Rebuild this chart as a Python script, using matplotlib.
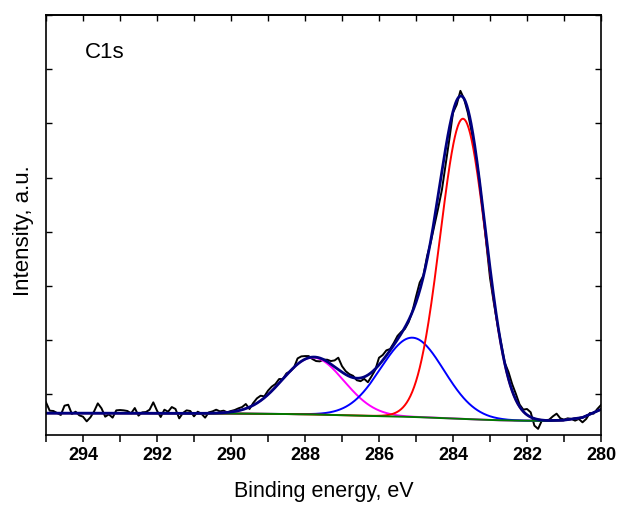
import numpy as np
import matplotlib
matplotlib.use('Agg')
import matplotlib.pyplot as plt
from matplotlib.ticker import MultipleLocator

plt.rcParams['font.family'] = ['Liberation Sans', 'DejaVu Sans']

# Measured C1s spectrum, 0.1 eV step from 295.0 eV down to 280.0 eV
energy = np.round(295.0 - 0.1 * np.arange(151), 1)
counts = [
    1850, 1696, 1690, 1653, 1616, 1788, 1806, 1634, 1677, 1610,
    1585, 1499, 1573, 1683, 1831, 1739, 1585, 1628, 1567, 1702,
    1708, 1702, 1690, 1647, 1745, 1604, 1665, 1671, 1714, 1850,
    1696, 1579, 1714, 1677, 1763, 1727, 1554, 1653, 1702, 1690,
    1591, 1677, 1640, 1567, 1665, 1683, 1714, 1683, 1696, 1665,
    1690, 1708, 1739, 1763, 1819, 1727, 1837, 1923, 1972, 1960,
    2065, 2139, 2188, 2280, 2280, 2385, 2421, 2489, 2661, 2698,
    2704, 2704, 2649, 2612, 2606, 2637, 2637, 2612, 2624, 2674,
    2518, 2425, 2370, 2339, 2258, 2240, 2283, 2221, 2332, 2450,
    2673, 2723, 2810, 2834, 2946, 3076, 3150, 3206, 3330, 3522,
    3801, 4061, 4191, 4550, 4810, 5120, 5436, 5771, 6235, 6700,
    7196, 7344, 7600, 7450, 7196, 6855, 6483, 6018, 5430, 4780,
    4148, 3702, 3293, 2946, 2580, 2410, 2185, 2005, 1810, 1715,
    1727, 1666, 1420, 1360, 1512, 1518, 1530, 1592, 1641, 1555,
    1530, 1555, 1543, 1512, 1543, 1481, 1543, 1653, 1641, 1727,
    1801,
]

# Background, 0.5 eV step from 295 to 280 eV
bg_energy = np.round(295.0 - 0.5 * np.arange(31), 1)
bg_counts = [
    1650, 1650, 1650, 1650, 1650, 1649, 1648, 1647, 1646, 1645,
    1643, 1641, 1638, 1634, 1629, 1622, 1614, 1605, 1596, 1587,
    1578, 1567, 1553, 1538, 1524, 1515, 1510, 1508, 1520, 1570,
    1720,
]

# Fitted components: centre (eV), height above background, FWHM (eV)
peak_colors = ['magenta', 'blue', 'red']
peak_centers = [287.78, 285.10, 283.73]
peak_heights = [1050, 1464, 5540]
peak_fwhm = [1.95, 2.00, 1.45]

e = np.linspace(280, 295, 1201)
bg = np.interp(e, bg_energy[::-1], bg_counts[::-1])
components = []
for c, h, w in zip(peak_centers, peak_heights, peak_fwhm):
    s = w / 2.3548
    components.append(h * np.exp(-0.5 * ((e - c) / s) ** 2))
envelope = bg + np.sum(components, axis=0)

fig = plt.figure(figsize=(6.17, 5.06), dpi=100)
ax = fig.add_axes([46 / 617, 1 - 436 / 506, 555 / 617, 420 / 506])

ax.plot(energy, counts, color='black', lw=1.4)
for col, comp in zip(peak_colors, components):
    ax.plot(e, bg + comp, color=col, lw=1.4)
ax.plot(e, bg, color='#007a00', lw=1.4)
ax.plot(e, envelope, color='#000080', lw=2.0)

ax.set_xlim(295, 280)
ax.set_ylim(1247, 9000)
ax.xaxis.set_major_locator(MultipleLocator(2))
ax.xaxis.set_minor_locator(MultipleLocator(1))
ax.yaxis.set_major_locator(MultipleLocator(1000))
ax.tick_params(axis='x', which='both', direction='out', length=5, width=1.1,
               labelsize=13, pad=3)
ax.tick_params(axis='y', which='both', direction='in', length=4, width=1,
               left=True, right=True, labelleft=False)
for lab in ax.get_xticklabels():
    lab.set_fontweight('bold')

top = ax.secondary_xaxis('top')
top.xaxis.set_major_locator(MultipleLocator(1))
top.tick_params(direction='in', length=4, width=1, labeltop=False)

for sp in ax.spines.values():
    sp.set_linewidth(1.2)
top.spines['top'].set_linewidth(1.2)

ax.set_xlabel('Binding energy, eV', fontsize=15.5)
ax.xaxis.set_label_coords(0.5, -0.108)
ax.set_ylabel('Intensity, a.u.', fontsize=16)
ax.yaxis.set_label_coords(-0.022, 0.488)

ax.text(0.07, 0.914, 'C1s', transform=ax.transAxes, fontsize=16, va='center')

fig.savefig('out.png', dpi=100)
